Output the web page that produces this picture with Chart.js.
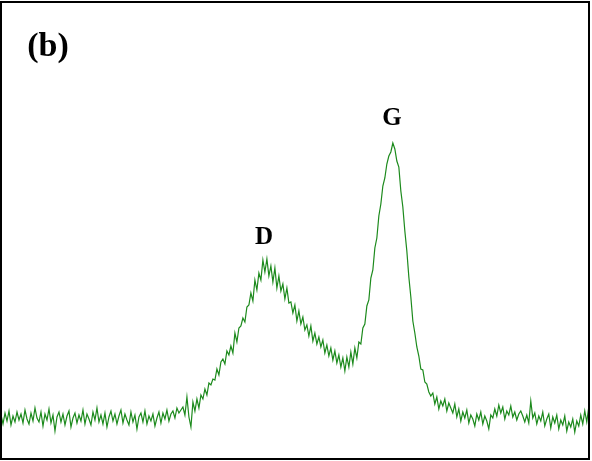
<!DOCTYPE html>
<html lang="en">
<head>
  <meta charset="UTF-8" />
  <title>Raman spectrum (b)</title>
  <style>
    html, body { margin: 0; padding: 0; background: #fff; }
    .chart-box { width: 592px; height: 461px; position: relative; }
  </style>
</head>
<body>

  <div class="chart-box">
    <canvas id="ramanChart"></canvas>
  </div>

  <script src="https://cdn.jsdelivr.net/npm/chart.js"></script>
  <script>
    // raman shift grid (cm-1), one sample every 3.74 cm-1
    const shiftStart = 860;
    const shiftStep = 3.74;
    const shiftMin = 860;
    const shiftMax = 1960;

    // intensity (a.u.), in order of raman shift
    const baseline = [
      44,35,46,38,48,34,43,37,47,39,
      45,36,49,40,35,46,38,51,41,37,
      47,33,45,39,50,36,44,28,42,47,
      37,45,34,43,48,32,41,46,36,44,
      38,49,35,45,40,34,47,39,51,37,
      44,35,46,32,42,48,38,45,35,43,
      49,36,45,39,34,47,37,44,30,42,
      46,37,48,35,43,38,45,33,41,47,
      36,46,40,49,38,45,48,41,51,46,
      49
    ];
    const riseD = [
      52,44,62,42,32,57,48,60,51,64,
      60,70,64,76,74,80,79,90,84,97,
      100,95,108,104,113,106,126,117,131,133,
      141,137,152,154,166,158,179,169,186,179,
      199
    ];
    const peakD = [
      187,200,183,193,177,191,171,183,168,175,
      160,171,156,157,146,154,138,148,135
    ];
    const valley = [
      142,129,134,123,133,118,126,115,122,112,
      119,106,114,103,111,99,108,96,104,92,
      101,88
    ];
    const riseG = [
      102,92,107,95,111,101,117,115,131,135,
      153,159,181,189,211,221,243,255,273,281,
      295,303,307,316
    ];
    const fallG = [
      310,298,292,268,252,228,208,182,162,138,
      126,112,103,90,89,77,75,67,63
    ];
    const tail = [
      66,55,62,50,58,53,60,48,56,51,
      46,55,42,50,38,47,41,49,36,44,
      40,33,45,39,47,35,43,38,30,44,
      41,50,43,54,46,52,40,48,44,53,
      42,47,39,45,48,43,37,44,36,58,
      41,46,35,43,38,47,33,40,45,31,
      42,36,44,30,39,34,43,28,37,32,
      40,27,38,33,44,35,48,37,52,40
    ];

    const intensity = [].concat(baseline, riseD, peakD, valley, riseG, fallG, tail);
    const points = intensity.map((v, i) => ({ x: shiftStart + shiftStep * i, y: v }));

    // frame + peak labels
    const framePlugin = {
      id: 'frame',
      afterDraw(chart) {
        const { ctx, chartArea } = chart;
        ctx.save();
        ctx.strokeStyle = '#000';
        ctx.lineWidth = 2;
        ctx.strokeRect(chartArea.left, chartArea.top, chartArea.right - chartArea.left, chartArea.bottom - chartArea.top);

        ctx.fillStyle = '#000';
        ctx.textAlign = 'center';
        ctx.textBaseline = 'middle';
        ctx.font = 'bold 34px "Liberation Serif", "DejaVu Serif", serif';
        ctx.fillText('(b)', 48, 47);
        ctx.font = 'bold 25px "Liberation Serif", "DejaVu Serif", serif';
        ctx.fillText('D', 264, 238);
        ctx.fillText('G', 392, 119);
        ctx.restore();
      }
    };

    new Chart(document.getElementById('ramanChart'), {
      type: 'line',
      data: {
        datasets: [{
          label: 'Raman',
          data: points,
          borderColor: '#1c8a1c',
          borderWidth: 1.2,
          pointRadius: 0,
          tension: 0,
          fill: false
        }]
      },
      options: {
        responsive: true,
        maintainAspectRatio: false,
        animation: false,
        layout: { padding: { left: 1, right: 3, top: 2, bottom: 2 } },
        plugins: {
          legend: { display: false },
          tooltip: { enabled: false }
        },
        scales: {
          x: { type: 'linear', min: shiftMin, max: shiftMax, display: false },
          y: { min: 0, max: 457, display: false }
        }
      },
      plugins: [framePlugin]
    });
  </script>

</body>
</html>
